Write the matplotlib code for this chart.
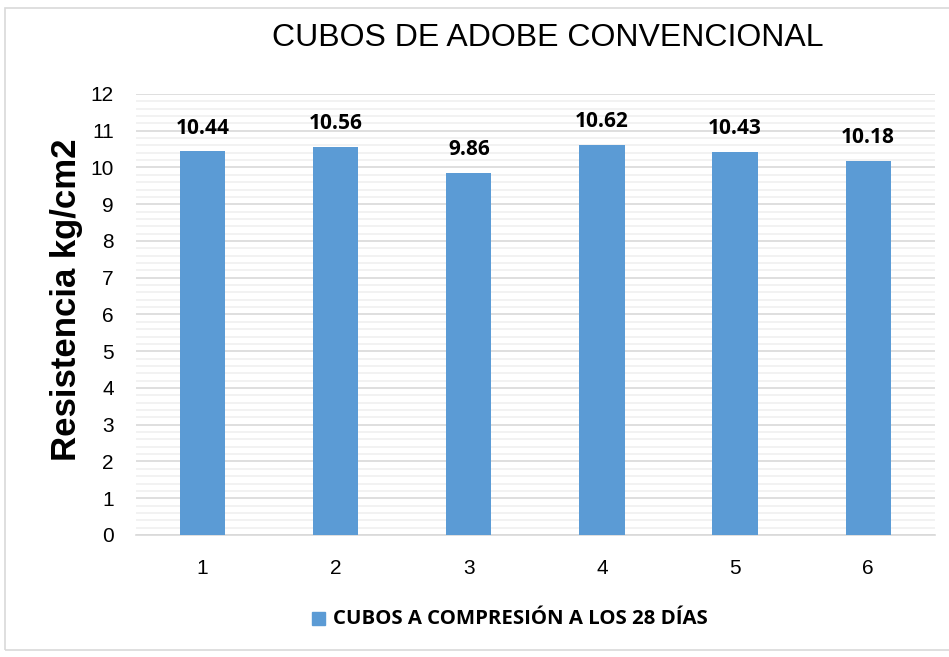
import numpy as np
import matplotlib
matplotlib.use("Agg")
import matplotlib.pyplot as plt
from matplotlib.patches import Rectangle
from matplotlib.ticker import MultipleLocator

categorias = ["1", "2", "3", "4", "5", "6"]
resistencia = [10.44, 10.56, 9.86, 10.62, 10.43, 10.18]
serie = "CUBOS A COMPRESIÓN A LOS 28 DÍAS"
titulo = "CUBOS DE ADOBE CONVENCIONAL"
eje_y = "Resistencia kg/cm2"

color_barra = "#5B9BD5"

fig = plt.figure(figsize=(9.49, 6.57), dpi=100)
ax = fig.add_axes([0.1433, 0.1857, 0.8417, 0.6713])

x = np.arange(1, len(categorias) + 1)
barras = ax.bar(x, resistencia, width=0.34, color=color_barra, zorder=3, label=serie)

ax.set_xlim(0.5, len(categorias) + 0.5)
ax.set_ylim(0, 12)
ax.yaxis.set_major_locator(MultipleLocator(1))
ax.yaxis.set_minor_locator(MultipleLocator(0.2))
ax.set_xticks(x)
ax.set_xticklabels(categorias)

ax.grid(axis="y", which="major", color="#D9D9D9", linewidth=1.2, zorder=0)
ax.grid(axis="y", which="minor", color="#F0F0F0", linewidth=1.2, zorder=0)
for lado in ["top", "right", "left"]:
    ax.spines[lado].set_visible(False)
ax.spines["bottom"].set_color("#D9D9D9")
ax.spines["bottom"].set_linewidth(1.2)
ax.tick_params(axis="both", which="both", length=0)
ax.tick_params(axis="y", pad=16)
ax.tick_params(axis="x", pad=17)
for t in ax.get_xticklabels() + ax.get_yticklabels():
    t.set_fontfamily("Liberation Sans")
    t.set_fontsize(15)

# etiquetas de datos
for b, v in zip(barras, resistencia):
    ax.annotate(f"{v:.2f}", (b.get_x() + b.get_width() / 2, v), xytext=(0, 9),
                textcoords="offset points", ha="center", va="bottom",
                fontsize=15, fontweight="bold", fontfamily="Open Sans")

ax.set_ylabel(eje_y, fontsize=25, fontweight="bold", fontfamily="Liberation Sans", labelpad=5)
ax.yaxis.label.set_y(0.533)

fig.text(0.577, 0.942, titulo, ha="center", va="center", fontsize=23,
         fontfamily="Liberation Sans")

# leyenda
fig.patches.append(Rectangle((312 / 949, 1 - 625 / 657), 13 / 949, 13 / 657,
                             transform=fig.transFigure, color=color_barra))
fig.text(333 / 949, 1 - 619 / 657, serie, ha="left", va="center", fontsize=14.7,
         fontweight="bold", fontfamily="Open Sans")

# borde del grafico
fig.patches.append(Rectangle((5 / 949, 1 - 650 / 657), 950 / 949, 642 / 657,
                             transform=fig.transFigure, fill=False,
                             edgecolor="#D9D9D9", linewidth=1.2))

fig.savefig("out.png", dpi=100)
